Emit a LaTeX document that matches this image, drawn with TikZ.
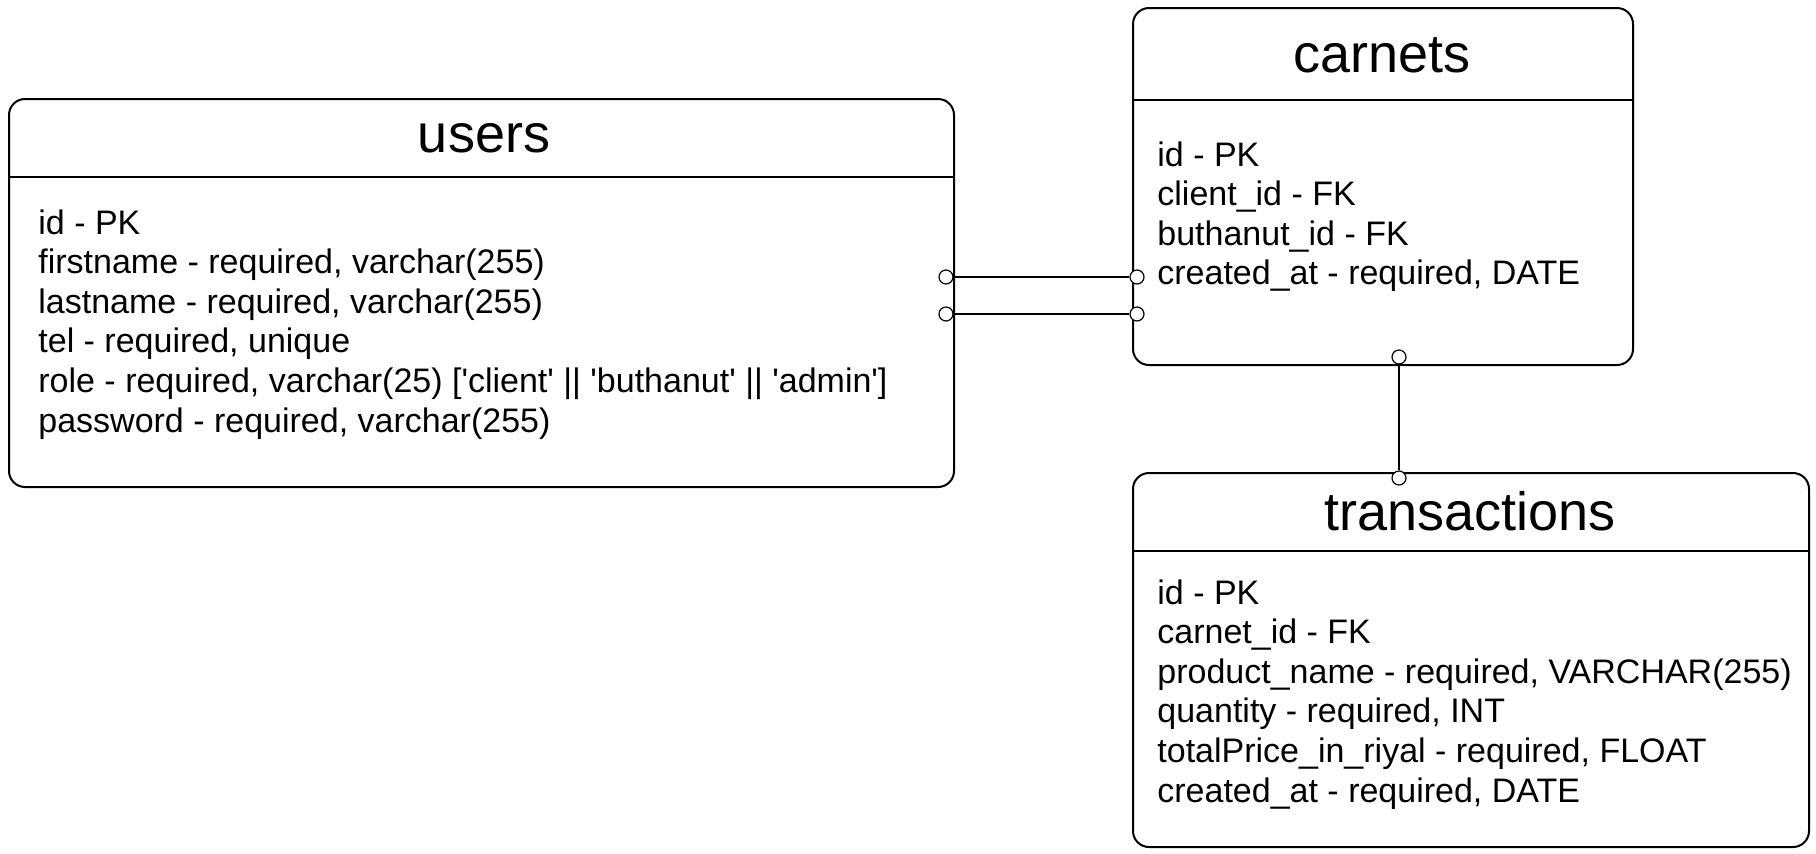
\documentclass[tikz,border=0pt]{standalone}
\usepackage{fontspec}
\setmainfont{Liberation Sans}
\usetikzlibrary{positioning}

\tikzset{
  entity/.style={draw, line width=1pt, rounded corners=8pt, anchor=north west},
  tabletitle/.style={font=\fontsize{27}{30}\selectfont},
  fieldlist/.style={align=left, anchor=north west, inner sep=0pt, font=\fontsize{17}{19.8}\selectfont},
  endpoint/.style={circle, draw, fill=white, inner sep=0pt, minimum size=7pt, line width=0.6pt},
  link/.style={line width=0.8pt}
}

\begin{document}
\begin{tikzpicture}[x=1pt, y=1pt]
\useasboundingbox (0,0) rectangle (908,-426.5);

% users table
\node[entity, minimum width=472.5pt, minimum height=194pt] (users) at (4,-49) {};
\draw[line width=1pt] (users.west |- 0,-88.5) -- (users.east |- 0,-88.5);
\node[tabletitle] (usersTitle) at (242,-69) {users};
\node[fieldlist] (usersFields) at (19,-104.5) {id - PK\\
firstname - required, varchar(255)\\
lastname - required, varchar(255)\\
tel - required, unique\\
role - required, varchar(25) [\textquotesingle client\textquotesingle\ || \textquotesingle buthanut\textquotesingle\ || \textquotesingle admin\textquotesingle]\\
password - required, varchar(255)};

% carnets table
\node[entity, minimum width=250pt, minimum height=178.5pt] (carnets) at (566,-3.5) {};
\draw[line width=1pt] (carnets.west |- 0,-49.8) -- (carnets.east |- 0,-49.8);
\node[tabletitle] (carnetsTitle) at (691,-27.5) {carnets};
\node[fieldlist] (carnetsFields) at (578.5,-70.5) {id - PK\\
client\_id - FK\\
buthanut\_id - FK\\
created\_at - required, DATE};

% transactions table
\node[entity, minimum width=338pt, minimum height=187pt] (transactions) at (566,-236) {};
\draw[line width=1pt] (transactions.west |- 0,-275.5) -- (transactions.east |- 0,-275.5);
\node[tabletitle] (transactionsTitle) at (735,-255.5) {transactions};
\node[fieldlist] (transactionsFields) at (578.5,-289.5) {id - PK\\
carnet\_id - FK\\
product\_name - required, VARCHAR(255)\\
quantity - required, INT\\
totalPrice\_in\_riyal - required, FLOAT\\
created\_at - required, DATE};

% relations
\node[endpoint] (clientEnd) at (473,-138.5) {};
\node[endpoint] (clientCarnet) at (568.5,-138.5) {};
\node[endpoint] (buthanutEnd) at (473,-157) {};
\node[endpoint] (buthanutCarnet) at (568.5,-157) {};
\node[endpoint] (carnetEnd) at (699.5,-178.5) {};
\node[endpoint] (transactionEnd) at (699.5,-239) {};
\draw[link] (clientEnd) -- (clientCarnet);
\draw[link, line width=1.3pt] (buthanutEnd) -- (buthanutCarnet);
\draw[link] (carnetEnd) -- (transactionEnd);
\end{tikzpicture}
\end{document}
